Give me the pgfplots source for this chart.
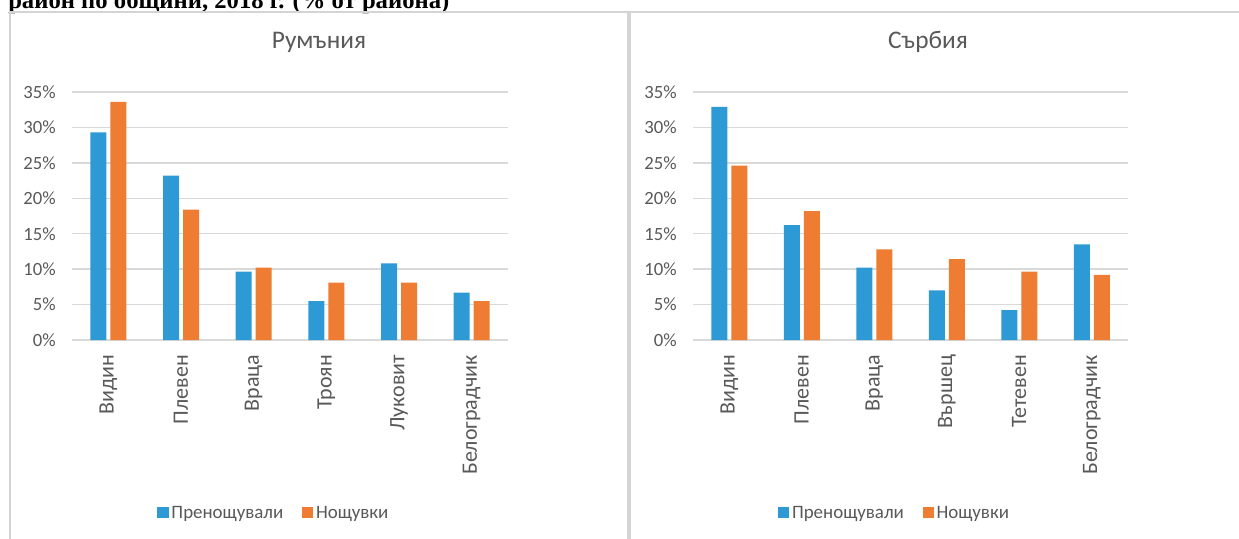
\documentclass[border=0pt]{standalone}
\usepackage{pgfplots}
\pgfplotsset{compat=1.18}
\usepackage{fontspec}
\setmainfont{Carlito}
\newfontfamily\titlefont{Liberation Serif}
\definecolor{cblue}{HTML}{2D9AD6}
\definecolor{corange}{HTML}{EE7D33}
\definecolor{ctext}{HTML}{595959}
\definecolor{cgrid}{HTML}{D9D9D9}
\definecolor{cframe}{HTML}{D4D4D4}
\pgfplotsset{panel/.style={
  scale only axis, width=327pt, height=186pt,
  ybar=3pt, bar width=12pt,
  xmin=-0.5, xmax=5.5, ymin=0, ymax=35,
  xtick={0,...,5}, ytick={0,5,...,35},
  yticklabels={0\%,5\%,10\%,15\%,20\%,25\%,30\%,35\%},
  ymajorgrids, grid style={cgrid, line width=1pt},
  axis line style={draw=none},
  major tick length=0pt,
  tick label style={text=ctext},
  yticklabel style={inner sep=0pt, font=\fontsize{14}{16}\selectfont},
  yticklabel shift=12pt,
  xticklabel style={rotate=90, anchor=east, inner sep=0pt, font=\fontsize{16.5}{18}\selectfont},
  xticklabel shift=11pt,
  legend columns=2,
  legend style={draw=none, fill=none, font=\fontsize{14.2}{16}\selectfont, text=ctext,
    at={(0.464,-0.698)}, anchor=center,
    /tikz/every even column/.append style={column sep=12pt}},
  legend image code/.code={\path[#1, draw=none] (0pt,-4pt) rectangle (8.5pt,4.5pt);},
}}
\begin{document}
\begin{tikzpicture}
\useasboundingbox (0,0) rectangle (929.25pt,-404.25pt);
\clip (0,0) rectangle (929.25pt,-404.25pt);
\fill[white] (0,0) rectangle (929.25pt,-404.25pt);
\node[font=\titlefont\bfseries\fontsize{18.5}{20}\selectfont, anchor=base west, inner sep=0pt] at (6pt,-6pt) {район по общини, 2018 г. (\% от района)};
\draw[cframe, line width=2pt] (7.5pt,-405pt) -- (7.5pt,-9pt) -- (930pt,-9pt);
\draw[cframe, line width=3pt] (472pt,-9pt) -- (472pt,-405pt);
\node[font=\fontsize{19}{21}\selectfont, text=ctext, anchor=base] at (239.25pt,-36pt) {Румъния};
\node[font=\fontsize{19}{21}\selectfont, text=ctext, anchor=base] at (696pt,-36pt) {Сърбия};
\begin{axis}[panel, at={(54pt,-255pt)}, anchor=south west,
  xticklabels={Видин,Плевен,Враца,Троян,Луковит,Белоградчик}]
\addplot[fill=cblue, draw=none] coordinates {(0,29.3) (1,23.2) (2,9.65) (3,5.5) (4,10.8) (5,6.7)};
\addplot[fill=corange, draw=none] coordinates {(0,33.6) (1,18.4) (2,10.2) (3,8.1) (4,8.1) (5,5.5)};
\legend{Пренощували,Нощувки}
\end{axis}
\begin{axis}[panel, at={(519.75pt,-255pt)}, anchor=south west, width=326.25pt,
  xticklabels={Видин,Плевен,Враца,Вършец,Тетевен,Белоградчик}]
\addplot[fill=cblue, draw=none] coordinates {(0,32.9) (1,16.2) (2,10.2) (3,7.0) (4,4.2) (5,13.5)};
\addplot[fill=corange, draw=none] coordinates {(0,24.6) (1,18.2) (2,12.8) (3,11.4) (4,9.65) (5,9.2)};
\legend{Пренощували,Нощувки}
\end{axis}
\end{tikzpicture}
\end{document}
